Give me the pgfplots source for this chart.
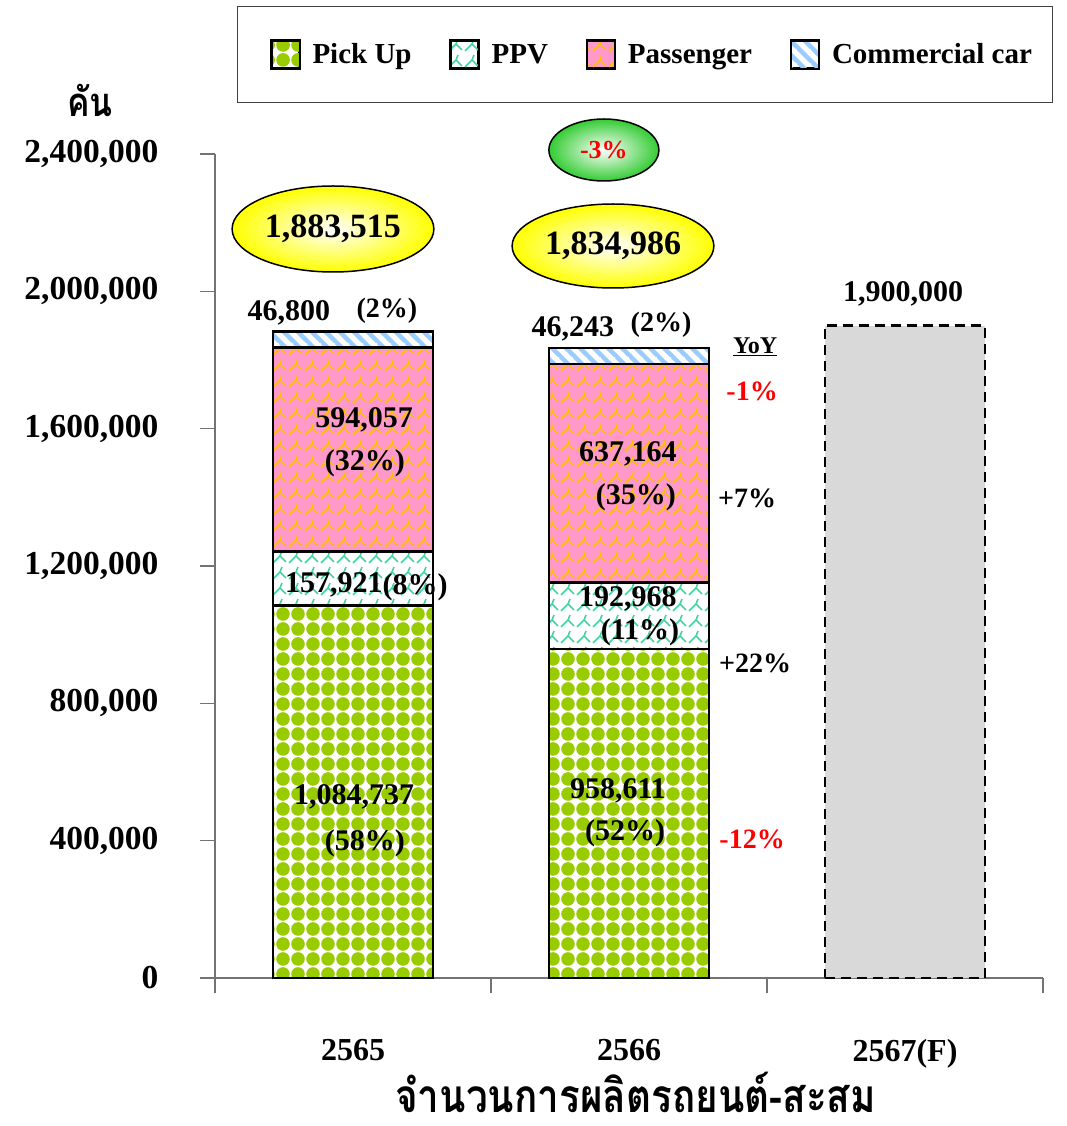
\documentclass[border=0pt]{standalone}
\usepackage{pgfplots}
\pgfplotsset{compat=1.18}
\usepackage{fontspec}
\setmainfont{Liberation Serif}
\newfontfamily\thaifont[Script=Thai, FakeStretch=0.84]{Loma}
\usetikzlibrary{patterns,shapes.geometric}

\definecolor{pgreen}{HTML}{99CC00}
\definecolor{pteal}{HTML}{3FD6A0}
\definecolor{ppink}{HTML}{FF99CC}
\definecolor{porange}{HTML}{FFC000}
\definecolor{pblue}{HTML}{99CCFF}
\definecolor{pgray}{HTML}{D9D9D9}
\definecolor{egreen}{HTML}{33CC33}

% green blobs on white
\pgfdeclarepatternformonly{blobs}{\pgfqpoint{0pt}{0pt}}{\pgfqpoint{14.5pt}{14.5pt}}{\pgfqpoint{14.5pt}{14.5pt}}{%
  \pgfpathcircle{\pgfqpoint{7.25pt}{7.25pt}}{7pt}\pgfusepath{fill}}
% little zigzag marks
\pgfdeclarepatternformonly{zig}{\pgfqpoint{-1pt}{-1pt}}{\pgfqpoint{17pt}{17pt}}{\pgfqpoint{16pt}{16pt}}{%
  \pgfsetlinewidth{1.6pt}
  \pgfpathmoveto{\pgfqpoint{1pt}{3pt}}\pgfpathlineto{\pgfqpoint{8pt}{10pt}}\pgfpathlineto{\pgfqpoint{14pt}{4pt}}
  \pgfpathmoveto{\pgfqpoint{8pt}{10pt}}\pgfpathlineto{\pgfqpoint{10pt}{15pt}}
  \pgfusepath{stroke}}
% blue diagonal stripes
\pgfdeclarepatternformonly{bstripes}{\pgfqpoint{-1pt}{-1pt}}{\pgfqpoint{15pt}{15pt}}{\pgfqpoint{14pt}{14pt}}{%
  \pgfsetlinewidth{4.5pt}
  \pgfpathmoveto{\pgfqpoint{-1pt}{15pt}}\pgfpathlineto{\pgfqpoint{15pt}{-1pt}}
  \pgfusepath{stroke}}

\tikzset{lbl/.style={font=\fontsize{30}{36}\selectfont\bfseries},
         sml/.style={font=\fontsize{28}{34}\selectfont\bfseries}}

\begin{document}
\begin{tikzpicture}
\useasboundingbox (0,0) rectangle (1066pt,1126pt);

\begin{axis}[
  at={(215pt,148pt)}, anchor=south west,
  scale only axis, width=828pt, height=824pt,
  xmin=0, xmax=3, ymin=0, ymax=2400000,
  ybar stacked, bar width=160pt,
  axis lines*=left,
  axis line style={draw=black!55, line width=1.2pt},
  clip=false,
  tick align=outside,
  major tick length=15pt,
  tick style={draw=black!55, line width=1.2pt},
  xtick={0,1,2,3}, xticklabels={},
  extra x ticks={0.5,1.5,2.5},
  extra x tick labels={2565,2566,2567(F)},
  extra x tick style={major tick length=0pt,
    tick label style={font=\fontsize{32}{38}\selectfont\bfseries, yshift=-58pt}},
  ytick={0,400000,800000,1200000,1600000,2000000,2400000},
  scaled y ticks=false,
  yticklabel style={font=\fontsize{33.5}{40}\selectfont\bfseries, xshift=-38pt,
    /pgf/number format/.cd, fixed, precision=0, 1000 sep={,}, assume math mode=true},
  xlabel={\thaifont\bfseries จำนวนการผลิตรถยนต์-สะสม},
  xlabel style={at={(axis description cs:0.508,-0.139)}, anchor=center, inner sep=0pt,
    font=\fontsize{46}{52}\selectfont},
  legend style={at={(0.0266,1.1796)}, anchor=north west,
    draw=black!75, line width=1pt, legend columns=4,
    font=\fontsize{29}{34}\selectfont\bfseries,
    inner xsep=19pt, inner ysep=33pt,
    /tikz/every odd column/.append style={column sep=10pt},
    /tikz/every even column/.append style={column sep=22pt}},
  legend image code/.code={%
    \pgfpathmoveto{\pgfpointorigin}\pgfusepath{discard}%
    \draw[#1, line width=2pt] (15pt,-14pt) rectangle (43pt,14pt);},
]
\addplot[draw=black, line width=2.5pt, preaction={fill=white}, pattern=blobs, pattern color=pgreen]
  coordinates {(0.5,1084737) (1.5,958611)};
\addplot[draw=black, line width=2.5pt, preaction={fill=white}, pattern=zig, pattern color=pteal]
  coordinates {(0.5,157921) (1.5,192968)};
\addplot[draw=black, line width=2.5pt, preaction={fill=ppink}, pattern=zig, pattern color=porange]
  coordinates {(0.5,594057) (1.5,637164)};
\addplot[draw=black, line width=2.5pt, preaction={fill=white}, pattern=bstripes, pattern color=pblue]
  coordinates {(0.5,46800) (1.5,46243)};
\legend{Pick Up, PPV, Passenger, Commercial car}

\node[font=\fontsize{40}{46}\selectfont\thaifont\bfseries] at (axis description cs:-0.151,1.0655) {คัน};
\end{axis}

% forecast bar and the labels, drawn over the stacked bars
\begin{axis}[
  at={(215pt,148pt)}, anchor=south west,
  scale only axis, width=828pt, height=824pt,
  xmin=0, xmax=3, ymin=0, ymax=2400000,
  axis lines=none, ybar, bar width=160pt, clip=false,
]
\addplot[fill=pgray, draw=black, line width=2.5pt, dash pattern=on 10pt off 6pt]
  coordinates {(2.5,1900000)};

\node[lbl] at (axis cs:0.268,1936880) {46,800};
\node[sml] at (axis cs:0.623,1942700) {(2\%)};
\node[lbl] at (axis cs:0.540,1625230) {594,057};
\node[lbl] at (axis cs:0.543,1500000) {(32\%)};
\node[lbl] at (axis cs:0.431,1144650) {157,921};
\node[lbl] at (axis cs:0.725,1138800) {(8\%)};
\node[lbl] at (axis cs:0.504,527180) {1,084,737};
\node[lbl] at (axis cs:0.543,393200) {(58\%)};
\node[lbl] at (axis cs:1.297,1890280) {46,243};
\node[sml] at (axis cs:1.616,1901930) {(2\%)};
\node[font=\fontsize{24}{28}\selectfont\bfseries] at (axis cs:1.957,1837850) {\underline{YoY}};
\node[sml, text=red] at (axis cs:1.946,1709700) {-1\%};
\node[lbl] at (axis cs:1.496,1526200) {637,164};
\node[lbl] at (axis cs:1.525,1400960) {(35\%)};
\node[sml] at (axis cs:1.928,1398050) {+7\%};
\node[lbl] at (axis cs:1.496,1103880) {192,968};
\node[lbl] at (axis cs:1.540,1007760) {(11\%)};
\node[sml] at (axis cs:1.957,917470) {+22\%};
\node[lbl] at (axis cs:1.460,544660) {958,611};
\node[lbl] at (axis cs:1.486,422330) {(52\%)};
\node[sml, text=red] at (axis cs:1.946,404850) {-12\%};
\node[lbl] at (axis cs:2.493,1992220) {1,900,000};

\node[ellipse, draw=black, line width=1.5pt, minimum width=196pt, minimum height=86pt,
  inner color=white, outer color=yellow, font=\fontsize{34}{40}\selectfont\bfseries]
  at (axis cs:0.4275,2181540) {1,883,515};
\node[ellipse, draw=black, line width=1.5pt, minimum width=200pt, minimum height=84pt,
  inner color=white, outer color=yellow, font=\fontsize{34}{40}\selectfont\bfseries]
  at (axis cs:1.442,2132020) {1,834,986};
\node[ellipse, draw=black, line width=1.5pt, minimum width=110pt, minimum height=62pt,
  inner color=white, outer color=egreen, text=red,
  font=\fontsize{26}{30}\selectfont\bfseries]
  at (axis cs:1.409,2411630) {-3\%};
\end{axis}
\end{tikzpicture}
\end{document}
